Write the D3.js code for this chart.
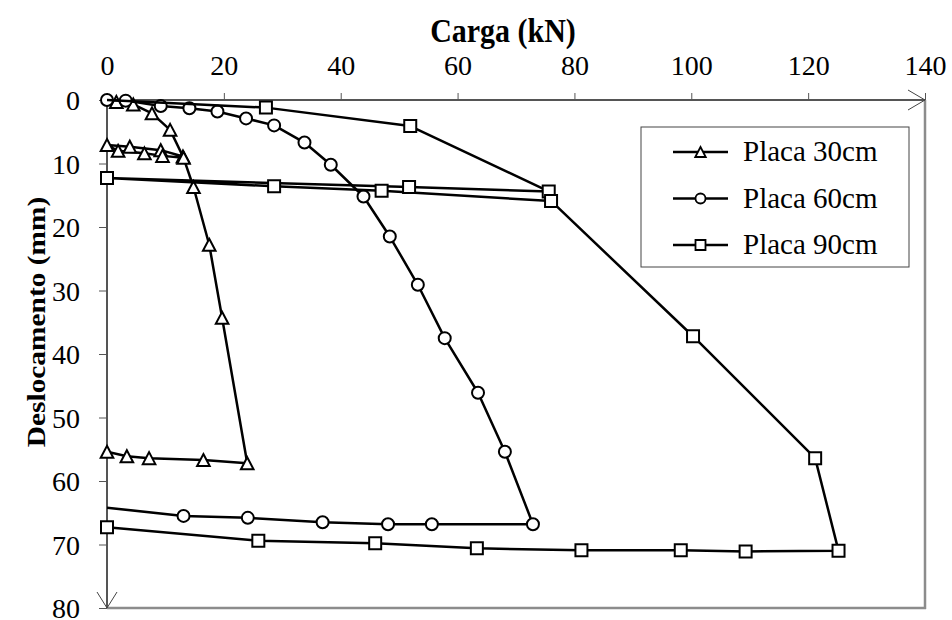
<!DOCTYPE html>
<html>
<head>
<meta charset="utf-8">
<script src="https://cdn.jsdelivr.net/npm/d3@7"></script>
<style>
  html, body { margin: 0; padding: 0; background: #fff; }
  svg { display: block; }
</style>
</head>
<body>
<svg id="chart" width="952" height="620"></svg>
<script>
// Load (kN) and settlement (mm) readings for each plate size
const p30Load = [0, 1.6, 4.5, 7.7, 10.8, 13.0, 9.2, 3.9, 0, 1.9, 6.4, 9.5, 13.1, 14.8, 17.5, 19.7, 24.0, 16.5, 7.2, 3.4, 0];
const p30Disp = [0, 0.3, 0.7, 2.1, 4.7, 8.9, 7.9, 7.35, 7.1, 8.0, 8.4, 8.8, 9.1, 13.7, 22.8, 34.3, 57.2, 56.7, 56.4, 56.1, 55.4];
const p30Bare = [0];

const p60Load = [0, 3.2, 9.2, 14.1, 18.9, 23.8, 28.6, 33.8, 38.3, 43.9, 48.4, 53.2, 57.8, 63.5, 68.1, 72.9, 55.6, 48.1, 36.9, 24.1, 13.1, 0];
const p60Disp = [0, 0.1, 0.95, 1.3, 1.8, 2.9, 4.0, 6.7, 10.2, 15.2, 21.5, 29.1, 37.5, 46.1, 55.4, 66.8, 66.8, 66.8, 66.5, 65.8, 65.5, 64.2];
const p60Bare = [21];

const p90Load = [0, 27.2, 51.9, 75.6, 51.7, 0, 28.6, 47.0, 76.0, 100.3, 121.2, 125.2, 109.3, 98.2, 81.2, 63.3, 45.9, 25.9, 0];
const p90Disp = [0, 1.2, 4.1, 14.4, 13.7, 12.3, 13.6, 14.3, 15.9, 37.2, 56.4, 71.0, 71.1, 70.9, 70.9, 70.6, 69.8, 69.4, 67.3];
const p90Bare = [0];

const seriesNames = ["Placa 30cm", "Placa 60cm", "Placa 90cm"];
const xTicks = [0, 20, 40, 60, 80, 100, 120, 140];
const yTicks = [0, 10, 20, 30, 40, 50, 60, 70, 80];
const xTitle = "Carga (kN)";
const yTitle = "Deslocamento (mm)";

const series = [
  { name: seriesNames[0], shape: "triangle", load: p30Load, disp: p30Disp, bare: p30Bare },
  { name: seriesNames[1], shape: "circle",   load: p60Load, disp: p60Disp, bare: p60Bare },
  { name: seriesNames[2], shape: "square",   load: p90Load, disp: p90Disp, bare: p90Bare }
];

const FONT = "Liberation Serif";
const svg = d3.select("#chart");
const plot = { left: 107, top: 100, right: 925, bottom: 608 };

const x = d3.scaleLinear().domain([0, 140]).range([plot.left, plot.right]);
const y = d3.scaleLinear().domain([0, 80]).range([plot.top, plot.bottom]);

// Frame: light right/bottom edges, darker value axes on top and left
svg.append("line").attr("x1", plot.right).attr("x2", plot.right)
  .attr("y1", plot.top).attr("y2", plot.bottom + 1)
  .attr("stroke", "#8c8c8c").attr("stroke-width", 2.5);
svg.append("line").attr("x1", plot.left).attr("x2", plot.right + 1)
  .attr("y1", plot.bottom).attr("y2", plot.bottom)
  .attr("stroke", "#8c8c8c").attr("stroke-width", 2.5);

// Top (load) axis
const xAxis = d3.axisTop(x).tickValues(xTicks).tickSize(7).tickFormat(d3.format("d"));
const gx = svg.append("g").attr("transform", `translate(0,${plot.top})`).call(xAxis);
gx.attr("font-family", FONT);
gx.select(".domain").attr("d", `M${plot.left},0H${plot.right}`).attr("stroke", "#555").attr("stroke-width", 2);
gx.selectAll(".tick line").attr("stroke", "#555").attr("stroke-width", 1);
gx.selectAll(".tick text").style("font-family", FONT).style("font-size", "28px")
  .attr("y", -25).attr("dy", 0).attr("fill", "#000");

// Left (settlement) axis
const yAxis = d3.axisLeft(y).tickValues(yTicks).tickSize(8).tickFormat(d3.format("d"));
const gy = svg.append("g").attr("transform", `translate(${plot.left},0)`).call(yAxis);
gy.attr("font-family", FONT);
gy.select(".domain").attr("d", `M0,${plot.top}V${plot.bottom}`).attr("stroke", "#555").attr("stroke-width", 2);
gy.selectAll(".tick line").attr("stroke", "#555").attr("stroke-width", 1);
gy.selectAll(".tick text").style("font-family", FONT).style("font-size", "28px")
  .attr("x", -27).attr("dy", "0.34em").attr("fill", "#000");

// Open arrowheads at the far end of each axis
svg.append("path")
  .attr("d", `M${plot.right - 17},${plot.top - 10}L${plot.right},${plot.top}L${plot.right - 17},${plot.top + 10}`)
  .attr("fill", "none").attr("stroke", "#444").attr("stroke-width", 1);
svg.append("path")
  .attr("d", `M${plot.left - 10},${plot.bottom - 16}L${plot.left},${plot.bottom}L${plot.left + 10},${plot.bottom - 16}`)
  .attr("fill", "none").attr("stroke", "#444").attr("stroke-width", 1);

// Axis titles (slightly tall, condensed lettering)
svg.append("text").attr("transform", "translate(503,42) scale(1,1.1)").attr("text-anchor", "middle")
  .style("font-family", FONT).style("font-size", "30px").style("font-weight", "bold").text(xTitle);
svg.append("text").attr("transform", "translate(45,322) rotate(-90) scale(1.13,1)").attr("text-anchor", "middle")
  .style("font-family", FONT).style("font-size", "26px").style("font-weight", "bold").text(yTitle);

// Marker shapes
function markerPath(shape, s) {
  if (shape === "triangle") {
    const w = s * 1.05, h = s;
    return `M0,${-h / 2}L${w / 2},${h / 2}L${-w / 2},${h / 2}Z`;
  }
  if (shape === "square") {
    return `M${-s / 2},${-s / 2}h${s}v${s}h${-s}Z`;
  }
  const r = s / 2;
  return `M${r},0A${r},${r} 0 1,1 ${-r},0A${r},${r} 0 1,1 ${r},0Z`;
}

svg.append("clipPath").attr("id", "plotClip").append("rect")
  .attr("x", plot.left).attr("y", plot.top - 10)
  .attr("width", plot.right - plot.left).attr("height", plot.bottom - plot.top + 10);

const line = d3.line().x(d => x(d.load)).y(d => y(d.disp));

series.forEach(s => {
  const pts = s.load.map((v, i) => ({ load: v, disp: s.disp[i], bare: s.bare.includes(i) }));
  svg.append("path").datum(pts)
    .attr("clip-path", "url(#plotClip)")
    .attr("d", line)
    .attr("fill", "none").attr("stroke", "#000").attr("stroke-width", 2.5)
    .attr("stroke-linejoin", "round");
  svg.append("g").selectAll("path").data(pts.filter(d => !d.bare)).join("path")
    .attr("transform", d => `translate(${x(d.load)},${y(d.disp)})`)
    .attr("d", markerPath(s.shape, 12))
    .attr("fill", "#fff").attr("stroke", "#000").attr("stroke-width", 2);
});

// Legend
const lg = svg.append("g");
lg.append("rect").attr("x", 641).attr("y", 127).attr("width", 268).attr("height", 140)
  .attr("fill", "#fff").attr("stroke", "#444").attr("stroke-width", 1);
series.forEach((s, i) => {
  const cy = 152 + i * 46.5;
  lg.append("line").attr("x1", 673).attr("x2", 728).attr("y1", cy).attr("y2", cy)
    .attr("stroke", "#000").attr("stroke-width", 2.5);
  lg.append("path").attr("transform", `translate(700.5,${cy})`)
    .attr("d", markerPath(s.shape, 10))
    .attr("fill", "#fff").attr("stroke", "#000").attr("stroke-width", 1.8);
  lg.append("text").attr("x", 743).attr("y", cy + 9)
    .style("font-family", FONT).style("font-size", "29px").text(s.name);
});
</script>
</body>
</html>
